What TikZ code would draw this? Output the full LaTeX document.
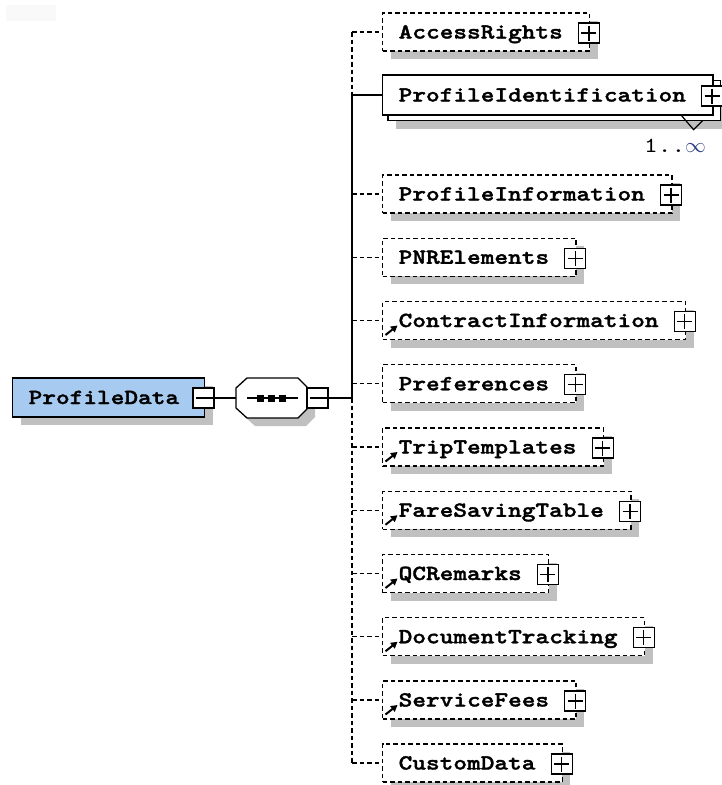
\documentclass[tikz,border=0pt]{standalone}
\usepackage{fontspec}
\usetikzlibrary{arrows.meta,backgrounds,calc}
\newfontfamily\schemafont{lmmonolt10-bold}[Extension=.otf, FakeStretch=1.212, FakeBold=1.6]
\newfontfamily\multfont{lmmono10-regular}[Extension=.otf, FakeStretch=1.212]
\definecolor{shadowgray}{RGB}{192,192,192}
\definecolor{rootblue}{RGB}{166,202,240}
\definecolor{infblue}{RGB}{40,60,130}
\definecolor{patchgray}{RGB}{249,249,249}

\tikzset{
  shadowed/.style={preaction={draw=none, fill=shadowgray,
      transform canvas={shift={(8pt,-8pt)}}}},
  elemfont/.style={font=\schemafont\fontsize{21.5pt}{24pt}\selectfont},
  elembase/.style={elemfont, draw, fill=white, line width=1.3pt, rectangle,
      anchor=west, inner xsep=0pt, inner ysep=0pt, text height=13pt, text depth=0pt},
  optelem/.style={elembase, shadowed, minimum height=38pt, dash pattern=on 4.5pt off 3pt},
  reqelem/.style={elembase, minimum height=40pt, solid},
  rootelem/.style={elembase, shadowed, minimum height=39pt, solid, fill=rootblue},
  signbox/.style={draw, solid, fill=white, line width=1.2pt, inner sep=0pt,
      minimum width=21pt, minimum height=20pt},
  signline/.style={line width=1.2pt, solid},
  busline/.style={line width=1.4pt},
  optline/.style={busline, dash pattern=on 4.5pt off 3pt},
  refarrow/.style={line width=2pt, -{Triangle[length=6.5pt,width=7pt]}},
}

% element box with its expand (plus) button
\newcommand\schemaelem[4]{%
  \node[#4] (#1) at (382,#2) {\hspace*{16pt}#3\hspace*{27pt}};
  \node[signbox] (#1-x) at ($(#1.east)+(-1.5,1)$) {};
  \draw[signline] ($(#1-x.center)+(-7.5,0)$) -- ($(#1-x.center)+(7.5,0)$);
  \draw[signline] ($(#1-x.center)+(0,-7.5)$) -- ($(#1-x.center)+(0,7.5)$);
}
% marker for a referenced global element
\newcommand\refmark[1]{%
  \draw[refarrow] ($(#1.west)+(3.5,14.5)$) -- ($(#1.west)+(15.5,5)$);
}

\begin{document}
\begin{tikzpicture}[x=1pt, y=-1pt]
\useasboundingbox (0,0) rectangle (721,785);
\fill[patchgray] (6,5) rectangle (56,21);

% root element
\node[rootelem] (root) at (12,397.5) {\hspace*{16pt}ProfileData\hspace*{25.5pt}};
\node[signbox] (root-m) at (203.5,398) {};
\draw[signline] ($(root-m.center)+(-7.5,0)$) -- (root-m.east);

% sequence compositor
\node[draw=none, inner sep=0pt, minimum width=71pt, minimum height=40pt] (seq) at (271.5,398) {};
\draw[line width=1.3pt, fill=white, shadowed]
  ($(seq.center)+(-35.5,-10)$) -- ($(seq.center)+(-24.5,-20)$) --
  ($(seq.center)+(26.5,-20)$) -- ($(seq.center)+(35.5,-11)$) --
  ($(seq.center)+(35.5,11)$) -- ($(seq.center)+(26.5,20)$) --
  ($(seq.center)+(-24.5,20)$) -- ($(seq.center)+(-35.5,10)$) -- cycle;
\draw[line width=1.2pt] ($(seq.center)+(-24.5,0)$) -- ($(seq.center)+(26.5,0)$);
\foreach \dx in {-11,0,11}
  \fill ($(seq.center)+(\dx-3.5,-3.5)$) rectangle ($(seq.center)+(\dx+3.5,3.5)$);
\node[signbox] (seq-m) at (317.5,398) {};
\draw[signline] ($(seq-m.center)+(-7.5,0)$) -- (seq-m.east);

\draw[busline] (root-m.east) -- (seq.west);
\coordinate (bus) at (352,398);
\draw[busline] (seq-m.east) -- (bus);

% child elements
\schemaelem{e1}{32}{AccessRights}{optelem}
\schemaelem{e2}{95}{ProfileIdentification}{reqelem}
\schemaelem{e3}{194}{ProfileInformation}{optelem}
\schemaelem{e4}{257.25}{PNRElements}{optelem}
\schemaelem{e5}{320.5}{ContractInformation}{optelem}
\schemaelem{e6}{383.75}{Preferences}{optelem}
\schemaelem{e7}{447}{TripTemplates}{optelem}
\schemaelem{e8}{510.25}{FareSavingTable}{optelem}
\schemaelem{e9}{573.5}{QCRemarks}{optelem}
\schemaelem{e10}{636.75}{DocumentTracking}{optelem}
\schemaelem{e11}{700}{ServiceFees}{optelem}
\schemaelem{e12}{763}{CustomData}{optelem}

\foreach \n in {e5,e7,e8,e9,e10,e11} { \refmark{\n} }

% repeated element: stacked copy behind the front box
\begin{scope}[on background layer]
  \draw[line width=1.3pt, fill=white, shadowed]
    ($(e2.north west)+(6,6)$) rectangle ($(e2.south east)+(7,5)$);
\end{scope}
\draw[line width=1.2pt] ($(e2.south east)+(-32,0)$) -- ($(e2.south east)+(-20,14)$) -- ($(e2.south east)+(-11,5)$);
\node[anchor=base west, inner sep=0pt, font=\multfont\fontsize{21.5pt}{24pt}\selectfont] (mult) at (644,152)
  {1..\textcolor{infblue}{$\infty$}};

% connector bus
\draw[optline] (e1.west -| bus) -- (e2.west -| bus);
\draw[busline] (e2.west -| bus) -- (bus);
\draw[optline] (bus) -- (e12.west -| bus);
\draw[busline] (e2.west -| bus) -- (e2.west);
\foreach \n in {e1,e3,e4,e5,e6,e7,e8,e9,e10,e11,e12}
  \draw[optline] (\n.west -| bus) -- (\n.west);
\end{tikzpicture}
\end{document}
